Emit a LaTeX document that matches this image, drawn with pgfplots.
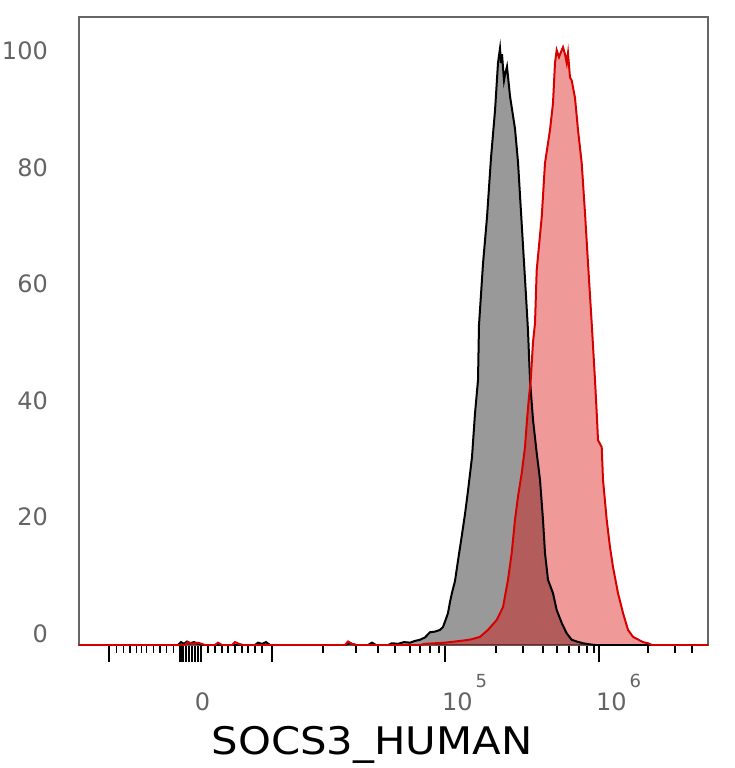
\documentclass[border=0pt]{standalone}
\usepackage{pgfplots}
\pgfplotsset{compat=1.18}
\usepackage{pgfplotstable}
\usepackage{fontspec}
\setmainfont{DejaVu Sans}
\newfontfamily\labfont{DejaVu Sans}[FakeStretch=1.1]
\definecolor{cred}{RGB}{215,0,0}
\definecolor{tickgray}{RGB}{100,100,100}

% x is the display channel of the biexponential axis, y is % of mode
\pgfplotstableread{
x v
79 0
178 0
181 0.5
184 0.2
187 0.6
190 0.3
194 0.5
198 0.2
202 0
255 0
258 0.4
262 0.2
266 0.5
270 0
345 0
350 0.3
356 0
368 0
372 0.4
376 0
388 0
392 0.3
398 0.2
404 0.5
410 0.4
415 0.7
420 0.9
425 1.3
430 2.2
435 2.3
440 2.6
443 3.1
446 4.5
448 5.5
450 7.4
452 9.0
455 11.0
458 14.5
462 19.0
465 22.5
468 26.5
472 32.3
475 39.8
478 45.5
479 55.0
483 65.5
487 73.5
491 83.7
495 91.8
498 100.0
500 102.5
501 100.0
502 101.5
504 97.0
505 98.0
507 99.4
510 94.3
515 88.7
518 83.0
522 71.5
526 60.0
528 54.0
530 45.5
533 38.7
536.7 33.0
540 28.4
543 21.5
545 15.8
548 11.2
553 8.9
556.7 6.0
561.7 3.8
566.7 2.0
571.7 0.9
576.7 0.6
583 0.3
590 0.1
595 0
708 0
}\blk

\pgfplotstableread{
x v
79 0
185 0
188 0.5
192 0.2
198 0.4
205 0
215 0
218 0.4
222 0
232 0
235 0.5
239 0.2
243 0
345 0
348 0.6
352 0.2
356 0
420 0
425 0.2
435 0.3
445 0.4
455 0.6
465 0.8
472 1.0
480 1.4
488 2.6
496.7 4.3
503 6.5
508 11.2
511.7 15.8
515 21.5
518 25.5
521.7 29.5
525 34.0
527 38.7
529 42.6
530.7 45.5
533 52.0
535 55.3
536.7 64.4
541.7 73.5
545 82.8
550 88.5
553 93.1
555 100.0
556.7 102.2
559 101.0
561.7 102.2
563 102.7
565 101.5
566.7 100.0
568 101.7
570 97.5
571.7 97.0
575 94.0
578 88.5
581.7 82.8
585 74.2
588 65.6
591.7 55.3
595 45.5
596.7 39.9
598 35.2
601.7 34.0
603 28.4
606.7 21.5
610 16.8
613 13.4
618 8.9
623 5.5
628 2.6
633 1.4
643 0.5
648 0.3
652 0
708 0
}\red

\begin{document}
\begin{tikzpicture}
\begin{axis}[
  scale only axis,
  width=629pt, height=628pt,
  xmin=79, xmax=708, ymin=0, ymax=107.9,
  axis line style={draw=black!60, line width=1.4pt},
  tick align=outside,
  xtick pos=bottom, ytick pos=left,
  xtick={109,180.5,183,186,189,192,195,198,201,272,445,599},
  minor xtick={116.7,123.3,130,136.7,141.7,146.7,153.3,160,166.7,173.3,
    208,215,222,228,235,242,248,255,262,
    323,356,378,395,410,420,430,439,
    496,523,543,557,569,579,587,594,
    648,675,692},
  xticklabels={},
  major tick length=17pt, minor tick length=8pt,
  major x tick style={line width=2.5pt, black},
  minor x tick style={line width=1.5pt, black},
  extra x ticks={202.5,464.5,618.5},
  extra x tick labels={0,
    {10\hspace{3pt}\raisebox{23pt}{\fontsize{18}{18}\selectfont 5}},
    {10\hspace{3pt}\raisebox{23pt}{\fontsize{18}{18}\selectfont 6}}},
  extra x tick style={major tick length=0pt,
    xticklabel style={anchor=base, inner sep=0pt, yshift=-65pt}},
  ytick={0,20,...,100},
  ytick style={draw=none},
  yticklabel style={anchor=base east, inner sep=0pt, xshift=-14pt, yshift=3pt},
  tick label style={font=\fontsize{24}{24}\selectfont, text=tickgray},
  /pgf/number format/assume math mode=true,
  xlabel={\labfont\fontsize{38}{38}\selectfont SOCS3\_HUMAN},
  xlabel style={at={(axis description cs:0.4658,0)}, anchor=base,
    inner sep=0pt, yshift=-109pt},
]
\addplot[draw=none, fill=black, fill opacity=0.4] table[x=x, y=v] {\blk} \closedcycle;
\addplot[draw=none, fill=cred, fill opacity=0.4] table[x=x, y=v] {\red} \closedcycle;
\addplot[black, line width=2pt] table[x=x, y=v] {\blk};
\addplot[cred, line width=2pt] table[x=x, y=v] {\red};
\end{axis}
\pgfresetboundingbox
\path[use as bounding box] (-79pt,-123pt) rectangle (655pt,645pt);
\end{tikzpicture}
\end{document}
